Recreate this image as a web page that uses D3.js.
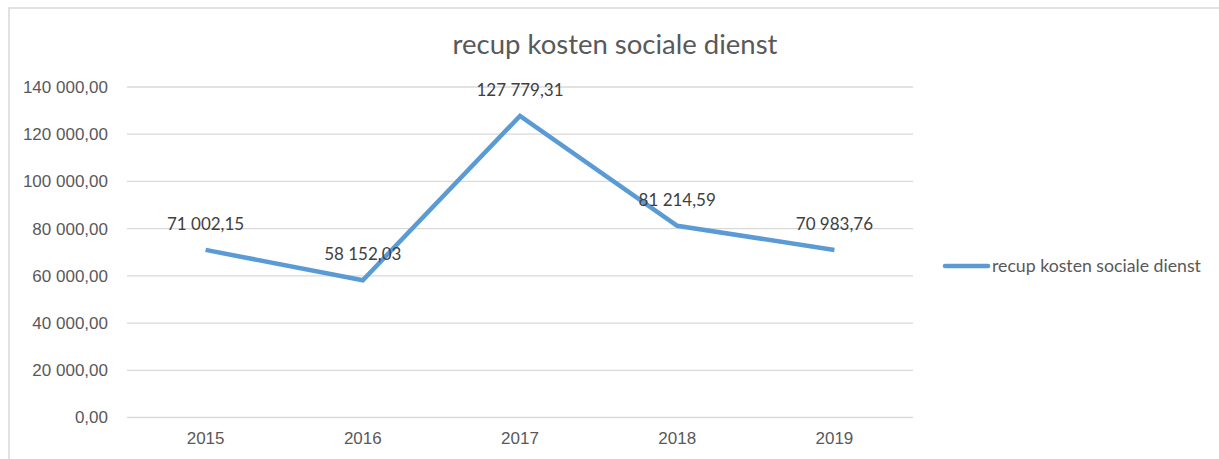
<!DOCTYPE html>
<html lang="nl">
<head>
    <meta charset="utf-8" />
    <title>recup kosten sociale dienst</title>
    <script src="https://d3js.org/d3.v7.min.js"></script>
    <style>
        body { margin: 0; background: #fff; }
        svg { font-family: Lato, "Open Sans", sans-serif; }
        .axis text { fill: #595959; font-size: 17px; }
        .axis path, .axis line { display: none; }
        .grid line { stroke: #d9d9d9; stroke-width: 1.3; }
    </style>
</head>
<body>
<script>
    const years = ["2015", "2016", "2017", "2018", "2019"];
    const values = [71002.15, 58152.03, 127779.31, 81214.59, 70983.76];
    const yTicks = [0, 20000, 40000, 60000, 80000, 100000, 120000, 140000];
    const seriesName = "recup kosten sociale dienst";
    const title = "recup kosten sociale dienst";

    const W = 1219, H = 459;
    const plot = { left: 127, right: 913, top: 87, bottom: 417.5 };

    const nl = d3.formatLocale({ decimal: ",", thousands: " ", grouping: [3], currency: ["€", ""] });
    const fmt = nl.format(",.2f");

    const svg = d3.select("body").append("svg").attr("width", W).attr("height", H);

    // chart frame (cropped on right and bottom)
    svg.append("rect")
        .attr("x", 9).attr("y", 8).attr("width", W).attr("height", H)
        .attr("fill", "#fff").attr("stroke", "#d9d9d9").attr("stroke-width", 1.5);

    const x = d3.scaleBand().domain(years).range([plot.left, plot.right]);
    const y = d3.scaleLinear().domain([0, 140000]).range([plot.bottom, plot.top]);

    // gridlines
    svg.append("g").attr("class", "grid")
        .selectAll("line").data(yTicks).join("line")
        .attr("x1", plot.left).attr("x2", plot.right)
        .attr("y1", d => y(d)).attr("y2", d => y(d));

    // y axis
    svg.append("g").attr("class", "axis")
        .attr("transform", `translate(${plot.left},0)`)
        .call(d3.axisLeft(y).tickValues(yTicks).tickFormat(fmt).tickSize(0).tickPadding(19));

    // x axis
    svg.append("g").attr("class", "axis")
        .attr("transform", `translate(0,${plot.bottom})`)
        .call(d3.axisBottom(x).tickSize(0).tickPadding(14));

    // title
    svg.append("text")
        .attr("x", 615).attr("y", 54)
        .attr("text-anchor", "middle")
        .attr("fill", "#595959").attr("font-size", 27.5)
        .text(title);

    const cx = d => x(d) + x.bandwidth() / 2;

    // line
    const line = d3.line().x((d, i) => cx(years[i])).y(d => y(d));
    svg.append("path").datum(values)
        .attr("d", line)
        .attr("fill", "none").attr("stroke", "#5b9bd5")
        .attr("stroke-width", 4.5).attr("stroke-linejoin", "miter");

    // data labels
    svg.append("g").selectAll("text").data(values).join("text")
        .attr("x", (d, i) => cx(years[i]))
        .attr("y", d => y(d) - 20)
        .attr("text-anchor", "middle")
        .attr("fill", "#404040").attr("font-size", 17)
        .text(d => fmt(d));

    // legend
    const lg = svg.append("g").attr("transform", "translate(945,266)");
    lg.append("line").attr("x1", 0).attr("x2", 43).attr("y1", 0).attr("y2", 0)
        .attr("stroke", "#5b9bd5").attr("stroke-width", 4.5).attr("stroke-linecap", "round");
    lg.append("text").attr("x", 47).attr("y", 6)
        .attr("fill", "#595959").attr("font-size", 17.7)
        .text(seriesName);
</script>
</body>
</html>
